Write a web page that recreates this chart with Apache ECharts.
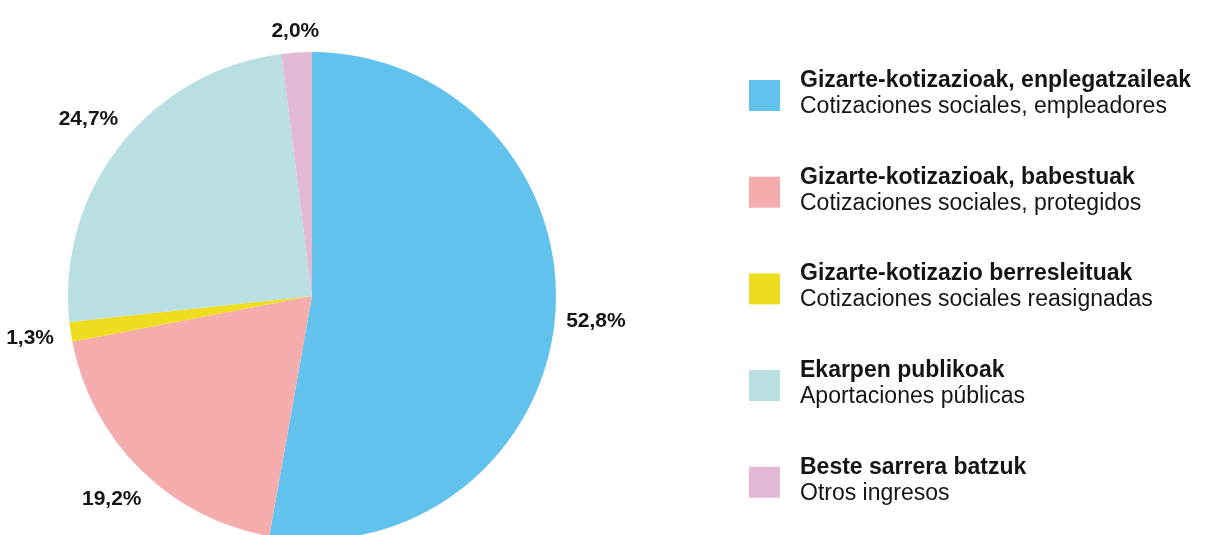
<!DOCTYPE html>
<html>
<head>
<meta charset="utf-8">
<script src="https://cdn.jsdelivr.net/npm/echarts@6/dist/echarts.min.js"></script>
<style>
  html, body { margin: 0; padding: 0; background: #fff; }
  #chart { width: 1211px; height: 535px; }
</style>
</head>
<body>
<div id="chart"></div>
<script>
// datos
const namesEu = ['Gizarte-kotizazioak, enplegatzaileak', 'Gizarte-kotizazioak, babestuak', 'Gizarte-kotizazio berresleituak', 'Ekarpen publikoak', 'Beste sarrera batzuk']
const namesEs = ['Cotizaciones sociales, empleadores', 'Cotizaciones sociales, protegidos', 'Cotizaciones sociales reasignadas', 'Aportaciones públicas', 'Otros ingresos']
const values = [52.8, 19.2, 1.3, 24.7, 2.0]
const colors = ['#61C2EE', '#F5ACAC', '#EEDC1F', '#B9DFE2', '#E2B8D4']
// la etiqueta pequeña de arriba va más cerca del círculo
const nearLabel = [false, false, false, false, true]

const chart = echarts.init(document.getElementById('chart'), null, { renderer: 'canvas' })

const fmt = (p) => p.value.toFixed(1).replace('.', ',') + '%'
const labelStyle = {
  position: 'inside',
  formatter: fmt,
  fontFamily: 'Liberation Sans',
  fontWeight: 'bold',
  fontSize: 21,
  color: '#151515'
}

// anillo invisible solo para colocar las etiquetas
function labelRing(radius, near) {
  return {
    type: 'pie',
    silent: true,
    center: [312, 296],
    radius: radius,
    startAngle: 90,
    clockwise: true,
    legendHoverLink: false,
    data: values.map((v, i) => ({
      name: namesEu[i],
      value: v,
      label: { show: nearLabel[i] === near }
    })),
    itemStyle: { color: 'rgba(0,0,0,0)' },
    label: labelStyle,
    labelLine: { show: false },
    emphasis: { disabled: true }
  }
}

chart.setOption({
  animation: false,
  legend: {
    orient: 'vertical',
    left: 744,
    top: 64,
    itemWidth: 31,
    itemHeight: 31,
    itemGap: 47.7,
    icon: 'rect',
    selectedMode: false,
    data: namesEu,
    formatter: (name) => {
      const i = namesEu.indexOf(name)
      return '{b|' + name + '}\n{r|' + namesEs[i] + '}'
    },
    textStyle: {
      padding: [0, 0, 4, 15],
      rich: {
        b: { fontFamily: 'Liberation Sans', fontWeight: 'bold', fontSize: 23, lineHeight: 26, color: '#151515' },
        r: { fontFamily: 'Liberation Sans', fontSize: 23, lineHeight: 26, color: '#151515' }
      }
    }
  },
  series: [
    {
      type: 'pie',
      center: [312, 296],
      radius: [0, 244],
      startAngle: 90,
      clockwise: true,
      data: values.map((v, i) => ({ name: namesEu[i], value: v, itemStyle: { color: colors[i] } })),
      label: { show: false },
      labelLine: { show: false },
      emphasis: { disabled: true }
    },
    labelRing([278, 286], false),
    labelRing([258, 266], true)
  ]
})
</script>
</body>
</html>
